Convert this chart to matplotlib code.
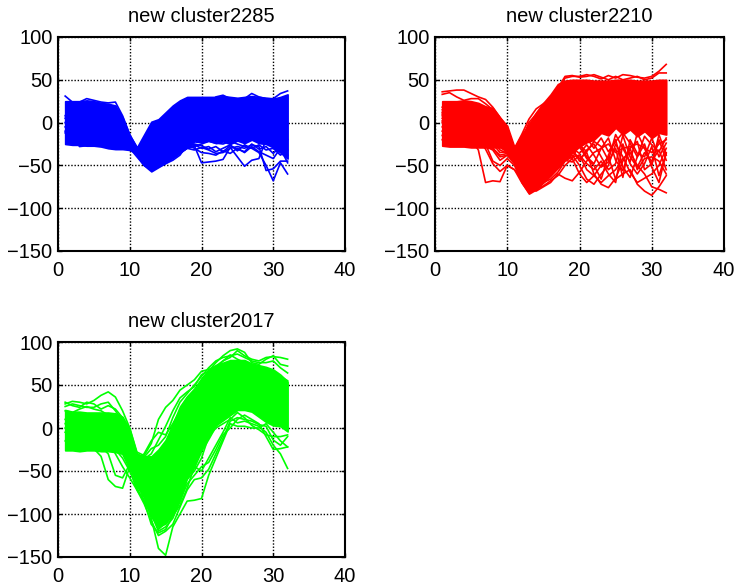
import matplotlib
matplotlib.use('Agg')
import matplotlib.pyplot as plt
import numpy as np

plt.rcParams['font.family'] = ['Liberation Sans', 'DejaVu Sans']

samples = list(range(1, 33))

blue_title = 'new cluster2285'
blue_upper = [25, 25, 25, 26, 25, 23, 22, 20, 6, -15, -29, -14, 1, 4, 12, 20, 26, 30, 30, 30, 30, 30, 31, 30, 29, 30, 31, 30, 29, 28, 30, 33]
blue_lower = [-25, -26, -26, -27, -27, -28, -30, -31, -31, -32, -36, -50, -57, -52, -47, -41, -35, -29, -22, -23, -21, -24, -22, -25, -21, -24, -20, -24, -25, -29, -35, -42]
blue_lines = [
    [31, 24, 24, 28, 26, 24, 23, 24, 8, -14, -29, -35, -30, -20, -10, 0, 8, 14, 18, 20, 22, 30, 32, 28, 26, 28, 34, 30, 28, 28, 34, 37],
    [5, 4, 3, 2, 0, -1, -3, -5, -10, -20, -32, -45, -50, -45, -40, -35, -30, -28, -27, -47, -46, -45, -43, -29, -40, -51, -44, -42, -20, -10, -15, -20],
    [-5, -6, -7, -8, -10, -12, -15, -18, -20, -28, -38, -50, -52, -48, -45, -40, -35, -30, -28, -25, -22, -24, -25, -22, -25, -28, -30, -35, -50, -68, -47, -60],
    [0, -2, -3, -5, -7, -8, -10, -12, -18, -25, -36, -48, -52, -50, -46, -42, -36, -30, -32, -29, -32, -36, -35, -30, -28, -30, -26, -28, -56, -54, -45, -45],
    [-10, -12, -10, -12, -15, -15, -18, -20, -24, -30, -40, -50, -55, -52, -48, -44, -38, -26, -30, -35, -36, -38, -33, -36, -30, -35, -28, -34, -38, -42, -30, -47],
    [8, 7, 6, 5, 3, 2, 0, -2, -8, -18, -32, -42, -48, -46, -42, -38, -32, -25, -26, -30, -28, -34, -30, -26, -33, -26, -30, -26, -32, -30, -38, -32],
    [-12, -14, -28, -27, -26, -24, -22, -26, -28, -30, -36, -48, -54, -50, -44, -38, -34, -28, -25, -27, -31, -28, -34, -27, -31, -34, -25, -31, -28, -36, -28, -38],
]

red_title = 'new cluster2210'
red_upper = [25, 25, 25, 26, 25, 23, 19, 17, 6, -4, -29, -14, -2, 12, 23, 33, 45, 49, 50, 50, 50, 49, 49, 49, 50, 50, 50, 49, 49, 49, 50, 50]
red_lower = [-27, -28, -28, -28, -29, -29, -29, -29, -29, -33, -47, -70, -83, -78, -70, -62, -53, -43, -35, -28, -23, -20, -12, -15, -6, -14, -8, -16, -10, -18, -12, -14]
red_lines = [
    [36, 37, 38, 38, 34, 30, 27, 18, 6, -6, -30, -14, 4, 16, 22, 28, 38, 52, 54, 54, 56, 54, 51, 55, 52, 56, 55, 53, 52, 54, 60, 68],
    [33, 35, 30, 26, 28, 28, 22, 15, 5, -8, -30, -20, 0, 10, 20, 30, 40, 54, 55, 53, 54, 56, 53, 50, 54, 50, 52, 54, 50, 52, 58, 58],
    [-10, -12, -14, -15, -20, -32, -70, -68, -69, -50, -55, -65, -78, -80, -75, -70, -60, -65, -68, -58, -45, -35, -30, -25, -35, -30, -28, -25, -30, -35, -25, -20],
    [0, -2, -4, -6, -10, -20, -31, -48, -57, -50, -55, -70, -82, -76, -70, -66, -58, -45, -40, -38, -55, -62, -70, -62, -55, -42, -35, -50, -60, -75, -78, -82],
    [-5, -8, -10, -12, -15, -20, -25, -45, -50, -42, -50, -68, -80, -78, -74, -68, -62, -50, -42, -60, -70, -62, -50, -40, -66, -60, -55, -72, -80, -85, -75, -62],
    [5, 3, 0, -2, -5, -10, -18, -30, -40, -38, -46, -62, -76, -74, -70, -62, -52, -44, -38, -50, -66, -72, -60, -50, -25, -40, -58, -70, -65, -60, -50, -30],
    [10, 8, 5, 2, 0, -5, -12, -20, -32, -36, -44, -60, -72, -70, -66, -60, -50, -40, -34, -42, -35, -60, -72, -76, -65, -45, -30, -55, -42, -40, -45, -60],
    [-15, -15, -18, -20, -22, -25, -28, -32, -44, -38, -48, -66, -80, -72, -64, -56, -48, -44, -46, -38, -48, -55, -45, -60, -70, -25, -48, -60, -48, -28, -62, -36],
    [2, 0, -2, -5, -8, -12, -15, -25, -35, -34, -44, -58, -70, -68, -62, -55, -45, -35, -30, -28, -42, -50, -66, -38, -20, -52, -64, -40, -25, -52, -70, -35],
    [15, 12, 10, 8, 5, 0, -5, -15, -28, -35, -42, -55, -66, -62, -56, -48, -40, -32, -30, -45, -32, -25, -40, -55, -48, -15, -40, -52, -35, -45, -32, -55],
    [12, 10, 8, 6, 4, 2, -2, -10, -22, -32, -44, -56, -68, -64, -58, -52, -44, -36, -42, -24, -40, -48, -30, -18, -44, -56, -30, -22, -55, -48, -20, -44],
    [-20, -22, -24, -24, -26, -26, -28, -30, -38, -36, -46, -64, -78, -74, -66, -58, -50, -40, -30, -36, -26, -38, -52, -46, -30, -64, -20, -36, -40, -18, -40, -24],
    [8, 6, 4, 2, 0, -4, -8, -14, -24, -34, -46, -58, -70, -66, -60, -54, -46, -38, -32, -26, -34, -22, -28, -44, -14, -30, -46, -12, -30, -50, -14, -38],
    [18, 16, 14, 10, 8, 4, 0, -8, -20, -30, -42, -54, -64, -60, -54, -46, -38, -30, -36, -22, -18, -30, -18, -34, -22, -12, -24, -40, -16, -26, -34, -18],
]

green_title = 'new cluster2017'
green_upper = [21, 19, 19, 18, 18, 18, 18, 17, 13, -2, -31, -33, -33, -25, -14, 5, 25, 37, 46, 58, 68, 73, 76, 79, 79, 79, 75, 73, 71, 68, 62, 54]
green_lower = [-26, -26, -27, -26, -26, -27, -27, -28, -30, -45, -68, -80, -103, -115, -111, -100, -84, -57, -45, -26, -12, 3, 9, 15, 21, 21, 19, 13, 7, 3, 2, -4]
green_lines = [
    [28, 31, 30, 28, 32, 38, 42, 36, 20, 0, -28, -32, -18, 10, 24, 32, 44, 50, 56, 66, 68, 72, 78, 82, 90, 84, 80, 78, 82, 83, 82, 80],
    [30, 26, 24, 30, 28, 22, 26, 22, 12, -5, -30, -36, -30, -14, 2, 20, 35, 42, 48, 62, 66, 76, 84, 90, 92, 88, 76, 74, 80, 84, 74, 72],
    [-15, -18, -20, -22, -24, -33, -60, -68, -70, -45, -62, -80, -105, -140, -148, -115, -100, -85, -84, -82, -55, -35, -15, 5, 2, 2, 0, 0, 5, -5, -15, -22],
    [-5, -8, -10, -12, -15, -22, -30, -55, -58, -42, -60, -85, -112, -122, -118, -102, -90, -70, -45, -50, -35, -20, -5, 12, 6, 8, 5, 2, -5, -20, -30, -47],
    [10, 8, 5, 5, 2, 0, -10, -25, -35, -50, -70, -85, -100, -120, -115, -105, -85, -65, -55, -45, -40, -25, -8, 0, 10, 15, 10, 5, -10, -25, -24, -22],
    [5, 2, 0, -2, -5, -10, -15, -30, -45, -58, -72, -85, -95, -118, -110, -95, -80, -60, -50, -35, -10, 0, 5, 10, 18, 12, 3, -2, -8, -10, -10, -8],
    [20, 18, 22, 25, 22, 20, 15, 10, 5, -15, -38, -30, -15, -5, -8, 5, 20, 35, 42, 48, 58, 70, 78, 85, 80, 76, 72, 70, 68, 64, 60, 55],
    [25, 28, 26, 24, 24, 28, 30, 20, 8, -8, -30, -34, -24, -20, -10, 12, 30, 40, 50, 60, 70, 78, 82, 84, 86, 82, 78, 76, 76, 78, 70, 64],
    [0, -3, -5, -8, -10, -14, -18, -26, -30, -48, -72, -88, -108, -125, -120, -112, -92, -72, -60, -58, -48, -30, -12, 8, 12, 10, 8, 4, 2, -14, -20, -10],
]

panels = [
    (blue_title, blue_upper, blue_lower, blue_lines, '#0000ff', [58 / 736, 1 - 251 / 588, 287 / 736, 214 / 588]),
    (red_title, red_upper, red_lower, red_lines, '#ff0000', [435 / 736, 1 - 251 / 588, 289 / 736, 214 / 588]),
    (green_title, green_upper, green_lower, green_lines, '#00ff00', [58 / 736, 1 - 557 / 588, 287 / 736, 215 / 588]),
]

fig = plt.figure(figsize=(7.36, 5.88), dpi=100)

for title, upper, lower, lines, color, box in panels:
    ax = fig.add_axes(box)
    ax.fill_between(samples, lower, upper, color=color, linewidth=1.2, zorder=3)
    for line in lines:
        ax.plot(samples, line, color=color, linewidth=1.2, zorder=3)
    ax.set_xlim(0, 40)
    ax.set_ylim(-150, 100)
    ax.set_xticks(np.arange(0, 41, 10))
    ax.set_yticks(np.arange(-150, 101, 50))
    ax.grid(True, color='black', linestyle=(0, (1, 1.3)), linewidth=1.0, zorder=1)
    ax.set_axisbelow(True)
    ax.tick_params(direction='in', length=3, width=1.0, top=True, right=True, labelsize=14.5)
    ax.tick_params(axis='x', pad=7)
    ax.tick_params(axis='y', pad=4)
    for spine in ax.spines.values():
        spine.set_linewidth(1.5)
        spine.set_zorder(5)
    ax.set_title(title, fontsize=14.5, pad=11)

fig.savefig('out.png', dpi=100)
